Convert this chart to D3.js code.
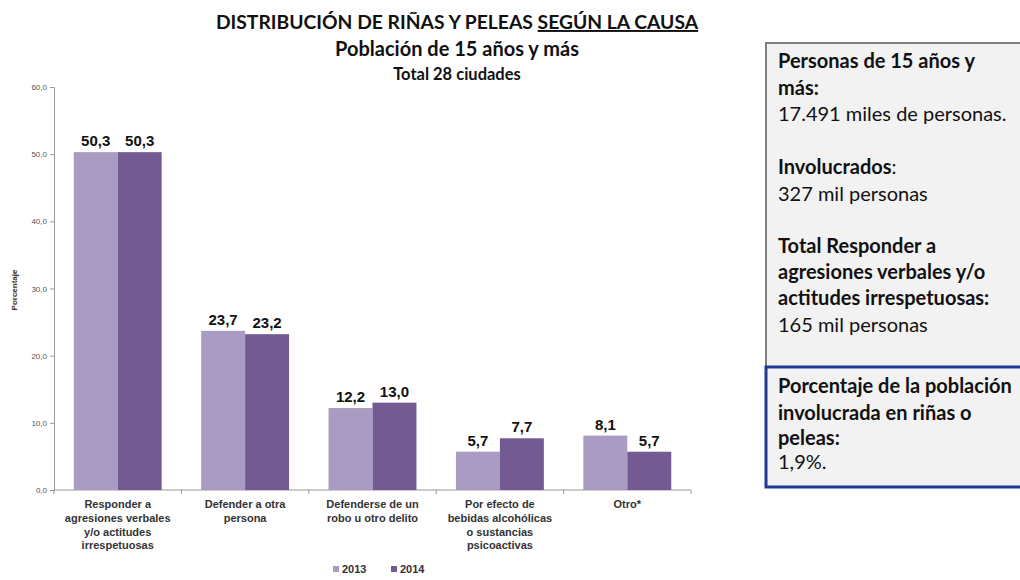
<!DOCTYPE html>
<html><head><meta charset="utf-8">
<script src="https://cdn.jsdelivr.net/npm/d3@7"></script>
<style>body{margin:0;background:#fff;}svg{display:block;}</style>
</head><body>
<svg id="c" width="1020" height="580"></svg>
<script>
const categories = [
  ["Responder a","agresiones verbales","y/o actitudes","irrespetuosas"],
  ["Defender a otra","persona"],
  ["Defenderse de un","robo u otro delito"],
  ["Por efecto de","bebidas alcohólicas","o sustancias","psicoactivas"],
  ["Otro*"]
];
const series = ["2013","2014"];
const values2013 = [50.3, 23.7, 12.2, 5.7, 8.1];
const values2014 = [50.3, 23.2, 13.0, 7.7, 5.7];
const yTicks = [0,10,20,30,40,50,60];
const colors = ["#a99bc1","#735a92"];

const svg = d3.select("#c");
const fmt = v => d3.format(".1f")(v).replace(".", ",");

const x0 = d3.scaleBand().domain(d3.range(categories.length)).range([54, 691]).paddingInner(0.31).paddingOuter(0.155);
const x1 = d3.scaleBand().domain(series).range([0, x0.bandwidth()]);
const y = d3.scaleLinear().domain([0,60]).range([490, 87]);

// titles
const tf = "'Lato','Open Sans',sans-serif";
const t1 = svg.append("text").attr("x",457).attr("y",29).attr("text-anchor","middle")
  .style("font-family",tf).style("font-weight","bold").style("font-size","19.3px").attr("fill","#111");
t1.append("tspan").text("DISTRIBUCIÓN DE RIÑAS Y PELEAS ");
t1.append("tspan").text("SEGÚN LA CAUSA").style("text-decoration","underline");
svg.append("text").attr("x",457).attr("y",56).attr("text-anchor","middle")
  .style("font-family",tf).style("font-weight","bold").style("font-size","20px").attr("fill","#111")
  .text("Población de 15 años y más");
svg.append("text").attr("x",457).attr("y",80).attr("text-anchor","middle")
  .style("font-family",tf).style("font-weight","bold").style("font-size","16.5px").attr("fill","#111")
  .text("Total 28 ciudades");

// y axis
const yAxis = svg.append("g").attr("transform","translate(54,0)")
  .call(d3.axisLeft(y).tickValues(yTicks).tickSize(4).tickFormat(fmt));
yAxis.select(".domain").attr("stroke","#999");
yAxis.selectAll(".tick line").attr("stroke","#999");
yAxis.selectAll(".tick text").attr("fill","#555").style("font-family","'Liberation Sans',Arial,sans-serif").style("font-size","8px");

// x axis
const xb = svg.append("g").attr("transform","translate(0,490)");
xb.append("line").attr("x1",54).attr("x2",691).attr("stroke","#999");
const bounds = d3.range(categories.length+1).map(i => i===categories.length ? 691 : x0(i) - x0.step()*x0.paddingInner()/2);
xb.selectAll("line.tk").data(bounds).join("line").attr("class","tk")
  .attr("x1",d=>d).attr("x2",d=>d).attr("y1",0).attr("y2",4).attr("stroke","#999");

svg.append("text").attr("transform","translate(17,290) rotate(-90)").attr("text-anchor","middle")
  .style("font-family","'Liberation Sans',Arial,sans-serif").style("font-size","8px").style("font-weight","bold").attr("fill","#333")
  .text("Porcentaje");

// bars
const data = categories.map((c,i)=>({i, vals:[values2013[i], values2014[i]]}));
const g = svg.append("g").selectAll("g").data(data).join("g").attr("transform",d=>`translate(${x0(d.i)},0)`);
g.selectAll("rect").data(d=>d.vals.map((v,k)=>({k,v}))).join("rect")
  .attr("x",d=>x1(series[d.k])).attr("width",x1.bandwidth())
  .attr("y",d=>y(d.v)).attr("height",d=>y(0)-y(d.v)).attr("fill",d=>colors[d.k]);
g.selectAll("text").data(d=>d.vals.map((v,k)=>({k,v}))).join("text")
  .attr("x",d=>x1(series[d.k])+x1.bandwidth()/2).attr("y",d=>y(d.v)-6).attr("text-anchor","middle")
  .style("font-family","'Liberation Sans',Arial,sans-serif").style("font-weight","bold").style("font-size","15px").attr("fill","#111")
  .text(d=>fmt(d.v));

// category labels
svg.append("g").selectAll("text").data(categories).join("text")
  .attr("x",(d,i)=>x0(i)+x0.bandwidth()/2).attr("y",508).attr("text-anchor","middle")
  .style("font-family","'Liberation Sans',Arial,sans-serif").style("font-weight","bold").style("font-size","11px").attr("fill","#333")
  .each(function(d){
    const t=d3.select(this);
    d.forEach((line,j)=>t.append("tspan").attr("x",t.attr("x")).attr("dy",j===0?0:13.8).text(line));
  });

// legend
const lg = svg.append("g").attr("transform","translate(333,573)");
series.forEach((s,k)=>{
  const gx = k*58;
  lg.append("rect").attr("x",gx).attr("y",-7).attr("width",6).attr("height",6).attr("fill",colors[k]);
  lg.append("text").attr("x",gx+9).attr("y",0).style("font-family","'Liberation Sans',Arial,sans-serif")
    .style("font-weight","bold").style("font-size","11px").attr("fill","#333").text(s);
});

// right panel
const pf = "'Lato','Open Sans',sans-serif";
svg.append("rect").attr("x",766).attr("y",43).attr("width",270).attr("height",326)
  .attr("fill","#f2f2f2").attr("stroke","#7f7f7f").attr("stroke-width",2);
svg.append("rect").attr("x",766).attr("y",367).attr("width",270).attr("height",120)
  .attr("fill","#f2f2f2").attr("stroke","#1f3a93").attr("stroke-width",3);
const lines = [
  [68,[["Personas de 15 años y",1]]],
  [95,[["más:",1]]],
  [121,[["17.491 miles de personas.",0]]],
  [174,[["Involucrados",1],[":",0]]],
  [201,[["327 mil personas",0]]],
  [253,[["Total Responder a",1]]],
  [279,[["agresiones verbales y/o",1]]],
  [305,[["actitudes irrespetuosas:",1]]],
  [332,[["165 mil personas",0]]],
  [393,[["Porcentaje de la población",1]]],
  [420,[["involucrada en riñas o",1]]],
  [445,[["peleas:",1]]],
  [469,[["1,9%.",0]]]
];
lines.forEach(([yy,parts])=>{
  const t = svg.append("text").attr("x",778).attr("y",yy).style("font-family",pf).style("font-size","20px").attr("fill","#111");
  parts.forEach(([s,b])=>t.append("tspan").style("font-weight",b?"bold":"normal").text(s));
});
</script>
</body></html>
